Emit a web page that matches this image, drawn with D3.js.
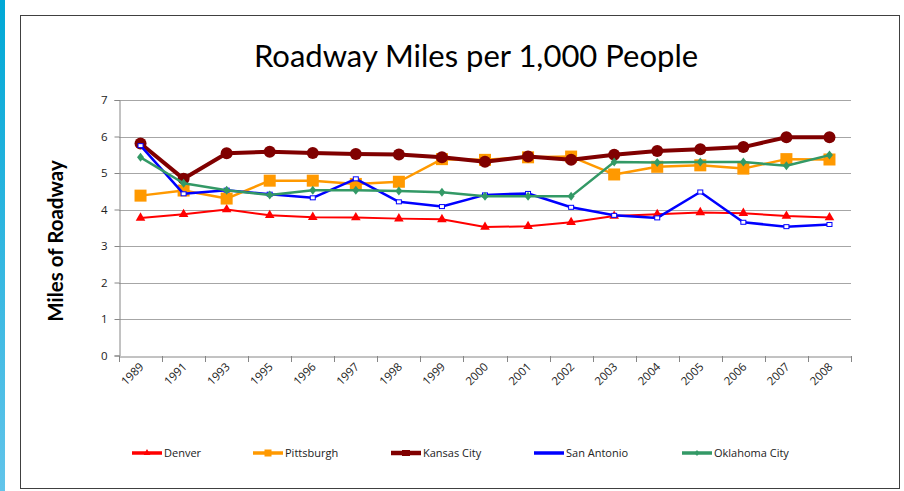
<!DOCTYPE html>
<html>
<head>
<meta charset="utf-8">
<script src="https://cdn.jsdelivr.net/npm/d3@7"></script>
<style>
  body { margin: 0; background: #fff; }
  svg { display: block; font-family: Lato, "Open Sans", sans-serif; }
</style>
</head>
<body>
<div id="viz"></div>
<script>
const years = ["1989","1991","1993","1995","1996","1997","1998","1999","2000",
  "2001","2002","2003","2004","2005","2006","2007","2008"];

const denver      = [3.77,3.87,4.00,3.84,3.79,3.78,3.75,3.73,3.52,3.54,3.65,3.82,3.87,3.92,3.90,3.82,3.78];
const pittsburgh  = [4.38,4.52,4.30,4.79,4.79,4.70,4.76,5.38,5.36,5.43,5.45,4.96,5.17,5.21,5.12,5.38,5.37];
const kansasCity  = [5.81,4.84,5.54,5.58,5.55,5.52,5.51,5.43,5.31,5.45,5.36,5.50,5.60,5.65,5.71,5.98,5.98];
const sanAntonio  = [5.75,4.43,4.53,4.42,4.32,4.84,4.21,4.08,4.40,4.44,4.06,3.84,3.77,4.48,3.65,3.53,3.59];
const oklahoma    = [5.43,4.72,4.53,4.40,4.53,4.53,4.51,4.47,4.36,4.36,4.36,5.30,5.29,5.30,5.30,5.20,5.49];

const yTicks = [0,1,2,3,4,5,6,7];

const series = [
  { name: "Denver", values: denver, color: "#ff0000", width: 2, marker: "triangle" },
  { name: "Pittsburgh", values: pittsburgh, color: "#ff9900", width: 2.5, marker: "square" },
  { name: "Kansas City", values: kansasCity, color: "#800000", width: 4, marker: "circle" },
  { name: "San Antonio", values: sanAntonio, color: "#0000ff", width: 2.5, marker: "smallsquare" },
  { name: "Oklahoma City", values: oklahoma, color: "#339966", width: 2.5, marker: "diamond" }
];

const W = 904, H = 491;
const svg = d3.select("#viz").append("svg").attr("width", W).attr("height", H);

// left accent strip
const grad = svg.append("defs").append("linearGradient")
  .attr("id", "strip").attr("x1", 0).attr("y1", 0).attr("x2", 0).attr("y2", 1);
grad.append("stop").attr("offset", "0%").attr("stop-color", "#00a8d6");
grad.append("stop").attr("offset", "100%").attr("stop-color", "#62c4ea");
svg.append("rect").attr("x", 0).attr("y", 0).attr("width", 5).attr("height", H).attr("fill", "url(#strip)");

// chart frame
svg.append("rect").attr("x", 20.5).attr("y", 15.5).attr("width", 879).attr("height", 473)
  .attr("fill", "#fff").attr("stroke", "#404040").attr("stroke-width", 1);

const plotL = 119, plotR = 851, plotT = 100, plotB = 355.5;

const x = d3.scaleBand().domain(years).range([plotL, plotR]);
const y = d3.scaleLinear().domain([0, 7]).range([plotB, plotT]);

// gridlines
svg.append("g").selectAll("line").data(yTicks.slice(1)).enter().append("line")
  .attr("x1", plotL).attr("x2", plotR)
  .attr("y1", d => Math.round(y(d)) + 0.5).attr("y2", d => Math.round(y(d)) + 0.5)
  .attr("stroke", "#a6a6a6").attr("stroke-width", 1);

// y axis
const yAxis = svg.append("g").attr("transform", `translate(${plotL + 0.5},0)`)
  .call(d3.axisLeft(y).tickValues(yTicks).tickSize(5).tickPadding(7).tickFormat(d3.format("d")));
yAxis.select(".domain").attr("stroke", "#868686");
yAxis.selectAll(".tick line").attr("stroke", "#868686");
yAxis.selectAll("text").attr("font-size", 11.5).attr("fill", "#222")
  .attr("font-family", "'Open Sans', sans-serif");

// x axis
const xAxis = svg.append("g").attr("transform", `translate(0,${Math.round(plotB) + 0.5})`)
  .call(d3.axisBottom(x).tickSize(0).tickFormat(""));
xAxis.select(".domain").attr("stroke", "#868686");
const tickPos = years.map(d => x(d)).concat([plotR]);
svg.append("g").selectAll("line").data(tickPos).enter().append("line")
  .attr("x1", d => Math.round(d) + 0.5).attr("x2", d => Math.round(d) + 0.5)
  .attr("y1", Math.round(plotB)).attr("y2", Math.round(plotB) + 6)
  .attr("stroke", "#868686");
svg.append("g").selectAll("text").data(years).enter().append("text")
  .attr("transform", d => `translate(${x(d) + x.bandwidth() / 2 + 4},${plotB + 12}) rotate(-45)`)
  .attr("text-anchor", "end").attr("font-size", 11.5).attr("fill", "#222")
  .attr("font-family", "'Open Sans', sans-serif")
  .text(d => d);

// titles
svg.append("text").attr("x", 476).attr("y", 67).attr("text-anchor", "middle")
  .attr("font-size", 31).attr("fill", "#000").text("Roadway Miles per 1,000 People");
svg.append("text").attr("transform", `translate(63,241) rotate(-90)`)
  .attr("text-anchor", "middle").attr("font-size", 20.5).attr("font-weight", "bold")
  .attr("fill", "#000").text("Miles of Roadway");

const cx = d => x(d) + x.bandwidth() / 2;
const line = d3.line().x((v, i) => cx(years[i])).y(v => y(v));

function drawMarker(g, type, color) {
  if (type === "circle") {
    g.append("circle").attr("r", 6).attr("fill", color);
  } else if (type === "square") {
    g.append("rect").attr("x", -6).attr("y", -6).attr("width", 12).attr("height", 12).attr("fill", color);
  } else if (type === "triangle") {
    g.append("path").attr("d", d3.symbol(d3.symbolTriangle, 40)()).attr("fill", color);
  } else if (type === "diamond") {
    g.append("path").attr("d", "M0,-4.5L3.5,0L0,4.5L-3.5,0Z").attr("fill", color);
  } else if (type === "smallsquare") {
    g.append("rect").attr("x", -2.5).attr("y", -2).attr("width", 5).attr("height", 4)
      .attr("fill", "#fff").attr("stroke", color).attr("stroke-width", 1);
  }
}

series.forEach(s => {
  const g = svg.append("g");
  g.append("path").datum(s.values).attr("d", line)
    .attr("fill", "none").attr("stroke", s.color).attr("stroke-width", s.width)
    .attr("stroke-linejoin", "round");
  s.values.forEach((v, i) => {
    const m = g.append("g").attr("transform", `translate(${cx(years[i])},${y(v)})`);
    drawMarker(m, s.marker, s.color);
  });
});

// legend
const legendX = [132, 253, 391, 534, 682];
const legY = 453;
series.forEach((s, i) => {
  const g = svg.append("g").attr("transform", `translate(${legendX[i]},${legY})`);
  g.append("line").attr("x1", 0).attr("x2", 30).attr("y1", 0).attr("y2", 0)
    .attr("stroke", s.color).attr("stroke-width", s.name === "Kansas City" ? 4.5 : 3.5);
  const m = g.append("g").attr("transform", "translate(15,0)");
  if (s.marker === "circle") m.append("rect").attr("x", -4).attr("y", -3).attr("width", 8).attr("height", 6).attr("fill", s.color);
  else if (s.marker === "square") m.append("rect").attr("x", -3.5).attr("y", -3.5).attr("width", 7).attr("height", 7).attr("fill", s.color);
  else if (s.marker === "triangle") m.append("path").attr("d", d3.symbol(d3.symbolTriangle, 20)()).attr("fill", s.color);
  else if (s.marker === "diamond") m.append("path").attr("d", "M0,-3L2.5,0L0,3L-2.5,0Z").attr("fill", s.color);
  g.append("text").attr("x", 32).attr("y", 4).attr("font-size", 11).attr("fill", "#222")
    .attr("font-family", "'Open Sans', sans-serif").text(s.name);
});
</script>
</body>
</html>
